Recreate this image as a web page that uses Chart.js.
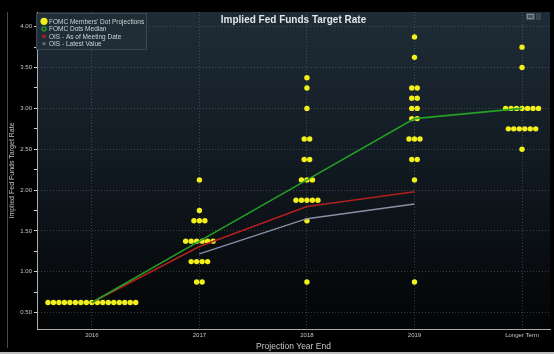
<!DOCTYPE html>
<html><head><meta charset="utf-8">
<script src="https://cdn.jsdelivr.net/npm/chart.js@4.4.0/dist/chart.umd.min.js"></script>
<style>html,body{margin:0;padding:0;background:#000;overflow:hidden}canvas{display:block}</style>
</head><body>
<canvas id="c" width="554" height="354"></canvas>
<script>
// ---- data ----
const categories = ['2016', '2017', '2018', '2019', 'Longer Term'];
// [rate, number of participants]
const dots2016 = [[0.625, 17]];
const dots2017 = [[2.125, 1], [1.75, 1], [1.625, 3], [1.375, 6], [1.125, 4], [0.875, 2]];
const dots2018 = [[3.375, 1], [3.25, 1], [3.0, 1], [2.625, 2], [2.375, 2], [2.125, 3], [1.875, 5], [1.625, 1], [0.875, 1]];
const dots2019 = [[3.875, 1], [3.625, 1], [3.25, 2], [3.125, 2], [3.0, 2], [2.875, 2], [2.625, 3], [2.375, 2], [2.125, 1], [0.875, 1]];
const dotsLonger = [[3.75, 1], [3.5, 1], [3.0, 7], [2.75, 6], [2.5, 1]];
const medianDots = [0.625, 1.375, 2.125, 2.875, 3.0];
const oisMeeting = [0.625, 1.31, 1.80, 1.98, null];
const oisLatest = [null, 1.22, 1.65, 1.83, null];
const yTickLabels = ['0.50', '1.00', '1.50', '2.00', '2.50', '3.00', '3.50', '4.00'];
const seriesLabels = ["FOMC Members' Dot Projections", 'FOMC Dots Median', 'OIS - As of Meeting Date', 'OIS - Latest Value'];
const chartTitle = 'Implied Fed Funds Target Rate';
const xTitle = 'Projection Year End';
const yTitle = 'Implied Fed Funds Target Rate';

// ---- build points ----
const DOT_GAP = 0.051;
const allDots = [dots2016, dots2017, dots2018, dots2019, dotsLonger];
const dotPoints = [];
allDots.forEach((levels, i) => {
  levels.forEach(([rate, n]) => {
    for (let k = 0; k < n; k++) dotPoints.push({ x: i + (k - (n - 1) / 2) * DOT_GAP, y: rate });
  });
});
const toLine = arr => arr.map((v, i) => v == null ? null : { x: i, y: v }).filter(p => p);

const FONT = '"Liberation Sans", Arial, sans-serif';
const gridCol = 'rgba(140,152,165,0.35)';

const bgPlugin = {
  id: 'bg',
  beforeDraw(chart) {
    const { ctx, chartArea: a } = chart;
    ctx.save();
    ctx.fillStyle = '#000';
    ctx.fillRect(0, 0, chart.width, chart.height);
    const g = ctx.createLinearGradient(0, a.top, 0, a.bottom);
    g.addColorStop(0, '#1f2c37');
    g.addColorStop(0.45, '#121b23');
    g.addColorStop(1, '#030405');
    ctx.fillStyle = g;
    ctx.fillRect(a.left, a.top, a.right - a.left, a.bottom - a.top);
    ctx.strokeStyle = '#4a4a4a';
    ctx.lineWidth = 1;
    ctx.beginPath(); ctx.moveTo(7.5, a.top); ctx.lineTo(7.5, 348); ctx.stroke();
    ctx.strokeStyle = '#bdbdbd';
    ctx.lineWidth = 2;
    ctx.beginPath(); ctx.moveTo(0, 353); ctx.lineTo(chart.width, 353); ctx.stroke();
    ctx.restore();
  }
};

const overlayPlugin = {
  id: 'overlay',
  afterDraw(chart) {
    const { ctx, chartArea: a } = chart;
    ctx.save();
    // title
    ctx.font = 'bold 10px ' + FONT;
    ctx.fillStyle = '#e2e5e8';
    ctx.textAlign = 'center';
    ctx.textBaseline = 'middle';
    ctx.fillText(chartTitle, (a.left + a.right) / 2, a.top + 8);
    // icon top-right
    ctx.fillStyle = '#46525c';
    ctx.fillRect(a.right - 24, a.top + 1, 9, 7);
    ctx.fillStyle = '#39444d';
    ctx.fillRect(a.right - 14, a.top + 1, 5, 7);
    ctx.strokeStyle = '#8a949c'; ctx.lineWidth = 0.8;
    ctx.strokeRect(a.right - 22.5, a.top + 2.5, 6, 4);
    // legend
    const bx = a.left - 1, by = a.top + 1, bw = 111, bh = 37;
    ctx.fillStyle = 'rgba(33,45,55,0.95)';
    ctx.fillRect(bx, by, bw, bh);
    ctx.strokeStyle = '#3b4852'; ctx.lineWidth = 1;
    ctx.strokeRect(bx + 0.5, by + 0.5, bw - 1, bh - 1);
    ctx.font = '6.5px ' + FONT;
    ctx.textAlign = 'left';
    chart.data.datasets.forEach((ds, i) => {
      const y = by + 8.3 + i * 7.5;
      const mx = bx + 8;
      if (i === 0) {
        ctx.fillStyle = ds.backgroundColor;
        ctx.beginPath(); ctx.arc(mx, y, 3.6, 0, Math.PI * 2); ctx.fill();
      } else if (i === 1) {
        ctx.strokeStyle = ds.borderColor; ctx.lineWidth = 1.3;
        ctx.beginPath(); ctx.arc(mx, y, 2, 0, Math.PI * 2); ctx.stroke();
      } else if (i === 2) {
        ctx.strokeStyle = ds.borderColor; ctx.lineWidth = 1;
        ctx.beginPath();
        ctx.moveTo(mx - 2, y); ctx.lineTo(mx + 2, y);
        ctx.moveTo(mx, y - 2); ctx.lineTo(mx, y + 2);
        ctx.moveTo(mx - 1.5, y - 1.5); ctx.lineTo(mx + 1.5, y + 1.5);
        ctx.moveTo(mx + 1.5, y - 1.5); ctx.lineTo(mx - 1.5, y + 1.5);
        ctx.stroke();
      } else {
        ctx.fillStyle = '#5d6876';
        ctx.beginPath(); ctx.arc(mx, y, 1.8, 0, Math.PI * 2); ctx.fill();
      }
      ctx.fillStyle = '#cdd2d6';
      ctx.fillText(ds.label, bx + 13, y + 0.5);
    });
    ctx.restore();
  }
};

new Chart(document.getElementById('c'), {
  type: 'scatter',
  data: {
    datasets: [
      { label: seriesLabels[0], data: dotPoints, backgroundColor: '#f2f01c', borderWidth: 0, pointRadius: 2.7, pointHoverRadius: 2.7, order: 4 },
      { label: seriesLabels[1], data: toLine(medianDots), showLine: true, borderColor: '#24a024', backgroundColor: '#24a024', borderWidth: 1.6, pointRadius: 0, order: 1 },
      { label: seriesLabels[2], data: toLine(oisMeeting), showLine: true, borderColor: '#b3201f', backgroundColor: '#b3201f', borderWidth: 1.6, pointRadius: 0, order: 2 },
      { label: seriesLabels[3], data: toLine(oisLatest), showLine: true, borderColor: '#8891a6', backgroundColor: '#8891a6', borderWidth: 1.4, pointRadius: 0, order: 3 }
    ]
  },
  options: {
    responsive: false,
    animation: false,
    devicePixelRatio: 1,
    layout: { padding: { top: 12, right: 4, left: 0, bottom: 0 } },
    plugins: { legend: { display: false }, tooltip: { enabled: false }, title: { display: false } },
    scales: {
      x: {
        type: 'linear', min: -0.51, max: 4.26,
        afterFit(s) { s.height = 25; },
        afterBuildTicks(s) { s.ticks = categories.map((c, i) => ({ value: i })); },
        ticks: { callback: v => categories[v] ?? '', color: '#c4c7ca', font: { family: FONT, size: 6 }, padding: 3, maxRotation: 0, autoSkip: false },
        grid: { color: gridCol, drawTicks: false, lineWidth: 1 },
        border: { display: true, color: '#a8acaf', width: 1, dash: [1, 2] },
        title: { display: true, text: xTitle, color: '#c4c7ca', font: { family: FONT, size: 8.5 }, padding: { top: 0, bottom: 2 } }
      },
      y: {
        type: 'linear', min: 0.30, max: 4.18,
        afterFit(s) { s.width = 37; },
        afterBuildTicks(s) {
          const t = [];
          yTickLabels.forEach((l, i) => {
            const v = parseFloat(l);
            t.push({ value: v });
            if (i < yTickLabels.length - 1) t.push({ value: (v + parseFloat(yTickLabels[i + 1])) / 2 });
          });
          s.ticks = t;
        },
        ticks: {
          callback: v => yTickLabels.find(l => Math.abs(parseFloat(l) - v) < 1e-6) ?? '',
          color: '#c4c7ca', font: { family: FONT, size: 6 }, padding: 2
        },
        grid: {
          color: c => (c.tick && yTickLabels.some(l => Math.abs(parseFloat(l) - c.tick.value) < 1e-6)) ? gridCol : 'rgba(0,0,0,0)',
          tickColor: '#d0d0d0', tickLength: 3, lineWidth: 1
        },
        border: { display: true, color: '#a8acaf', width: 1, dash: [1, 2] },
        title: { display: true, text: yTitle, color: '#bfc3c6', font: { family: FONT, size: 7 }, padding: { top: 8, bottom: 0 } }
      }
    }
  },
  plugins: [bgPlugin, overlayPlugin]
});
</script>
</body></html>
